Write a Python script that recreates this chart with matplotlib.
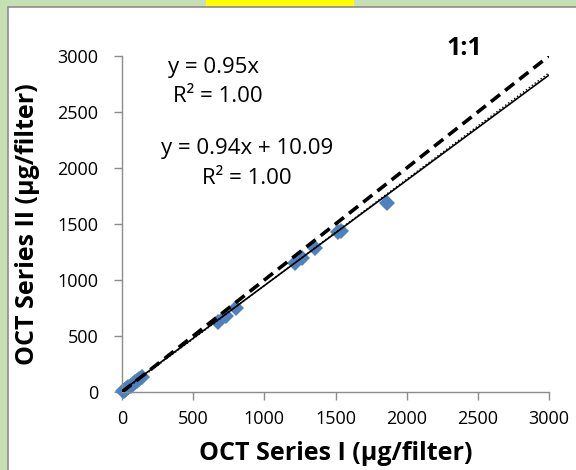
import matplotlib
matplotlib.use("Agg")
import matplotlib.pyplot as plt
from matplotlib.patches import Rectangle
import numpy as np

plt.rcParams['font.family'] = ['Open Sans', 'DejaVu Sans']

series_i = [5, 12, 20, 30, 45, 60, 75, 90, 105, 120, 140,
            675, 730, 800, 1216, 1265, 1356, 1518, 1540, 1862]
series_ii = [5, 10, 18, 28, 42, 57, 70, 85, 100, 115, 132,
             625, 679, 750, 1152, 1196, 1286, 1425, 1440, 1690]

fit_through_origin = 0.95
fit_slope = 0.94
fit_intercept = 10.09
line_x = [0, 3000]

fig = plt.figure(figsize=(5.76, 4.70), dpi=100)
fig.patch.set_facecolor('#c6e0b4')

bg = fig.add_axes([0, 0, 1, 1], zorder=-10)
bg.set_xlim(0, 576)
bg.set_ylim(470, 0)
bg.axis('off')
bg.add_patch(Rectangle((8, 6.5), 600, 500, facecolor='white', edgecolor='#8c8c8c', linewidth=1.2))
bg.add_patch(Rectangle((206, 0), 148, 6, facecolor='#ffff00', edgecolor='none'))

ax = fig.add_axes([122/576, (470-392)/470, (549-122)/576, (392-56)/470], zorder=5)
ax.set_facecolor('none')

ax.plot(series_i, series_ii, linestyle='none', marker='D', markersize=8.5,
        color='#4f81bd', markeredgewidth=0, zorder=2, clip_on=False)
ax.plot(line_x, line_x, color='black', linestyle=(0, (3.2, 1.8)), linewidth=2.6, zorder=3)
ax.plot(line_x, [fit_slope * x + fit_intercept for x in line_x], color='black',
        linewidth=1.2, zorder=3)
ax.plot(line_x, [fit_through_origin * x for x in line_x], color='black',
        linestyle=':', linewidth=1.0, zorder=3)

ax.set_xlim(0, 3000)
ax.set_ylim(0, 3000)
ax.set_xticks(np.arange(0, 3001, 500))
ax.set_yticks(np.arange(0, 3001, 500))
for s in ['top', 'right']:
    ax.spines[s].set_visible(False)
for s in ['left', 'bottom']:
    ax.spines[s].set_color('#8c8c8c')
    ax.spines[s].set_linewidth(1.0)
ax.tick_params(axis='both', direction='out', length=6, width=1, color='#8c8c8c',
               labelsize=13, labelcolor='black')
ax.tick_params(axis='x', pad=7)
ax.tick_params(axis='y', pad=11)

ax.set_xlabel('OCT Series I (µg/filter)', fontsize=18, fontweight='bold')
ax.set_ylabel('OCT Series II (µg/filter)', fontsize=18, fontweight='bold')
ax.xaxis.set_label_coords(0.5, -(453-392)/(392-56))
ax.yaxis.set_label_coords(-(122-28)/(549-122), 0.5)
ax.xaxis.label.set_va('center')
ax.yaxis.label.set_va('center')

ax.text(640, 2900, 'y = 0.95x', fontsize=16, ha='center', va='center')
ax.text(675, 2634, 'R² = 1.00', fontsize=16, ha='center', va='center')
ax.text(878, 2170, 'y = 0.94x + 10.09', fontsize=16, ha='center', va='center')
ax.text(878, 1902, 'R² = 1.00', fontsize=16, ha='center', va='center')
ax.text(2403, 3071, '1:1', fontsize=18, fontweight='bold', ha='center', va='center')

fig.savefig('out.png', dpi=100, facecolor=fig.get_facecolor())
